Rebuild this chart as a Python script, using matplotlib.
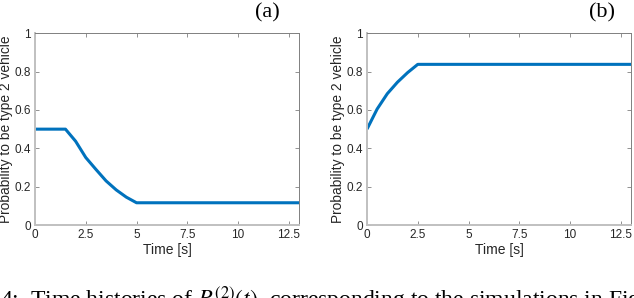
import matplotlib
matplotlib.use("Agg")
import matplotlib.pyplot as plt

t_a = [0.0, 0.5, 1.0, 1.5, 2.0, 2.5, 3.0, 3.5, 4.0, 4.5, 5.0, 13.0]
p_a = [0.5, 0.5, 0.5, 0.5, 0.437, 0.352, 0.29, 0.23, 0.183, 0.145, 0.116, 0.116]
t_b = [0.0, 0.5, 1.0, 1.5, 2.0, 2.5, 13.0]
p_b = [0.5, 0.605, 0.685, 0.745, 0.795, 0.838, 0.838]

xticks = [0, 2.5, 5, 7.5, 10, 12.5]
xticklabels = ["0", "2.5", "5", "7.5", "10", "12.5"]
yticks = [0, 0.2, 0.4, 0.6, 0.8, 1.0]
yticklabels = ["0", "0.2", "0.4", "0.6", "0.8", "1"]
panel_labels = ["(a)", "(b)"]
xlabel = "Time [s]"
ylabel = "Probability to be type 2 vehicle"
caption = r"4:  Time histories of $P^{(2)}(t)$  corresponding to the simulations in Fig"

plt.rcParams['font.family'] = ['Liberation Sans', 'DejaVu Sans']
plt.rcParams['mathtext.fontset'] = 'stix'

fig = plt.figure(figsize=(6.34, 2.98), dpi=100)
positions = [[35/634, 73/298, 264/634, 191.7/298],
             [367/634, 73/298, 264/634, 191.7/298]]
label_x = [0.928, 0.939]
data = [(t_a, p_a), (t_b, p_b)]
for i, (pos, (t, p)) in enumerate(zip(positions, data)):
    ax = fig.add_axes(pos)
    ax.plot(t, p, color='#0072BD', lw=2.2, solid_capstyle='butt')
    ax.set_xlim(0, 13)
    ax.set_ylim(0, 1)
    ax.set_xticks(xticks)
    ax.set_xticklabels(xticklabels)
    ax.set_yticks(yticks)
    ax.set_yticklabels(yticklabels)
    ax.tick_params(direction='in', top=True, right=True, length=3, width=0.6,
                   color='#808080', labelsize=8.5, labelcolor='#262626', pad=3)
    for s in ['left', 'bottom']:
        ax.spines[s].set_color('#c0c0c0')
        ax.spines[s].set_linewidth(1.4)
    for s in ['top', 'right']:
        ax.spines[s].set_color('#808080')
        ax.spines[s].set_linewidth(0.7)
    ax.set_xlabel(xlabel, fontsize=10, color='#262626', labelpad=1)
    ax.set_ylabel(ylabel, fontsize=9.9, color='#262626', labelpad=1)
    ax.text(label_x[i], 1.106, panel_labels[i], transform=ax.transAxes,
            ha='right', va='center', fontsize=16, family='Liberation Serif')

fig.text(0.0, -9 / 298, caption, fontsize=17, family='Liberation Serif',
         va='baseline', ha='left')
fig.savefig("out.png", dpi=100)
